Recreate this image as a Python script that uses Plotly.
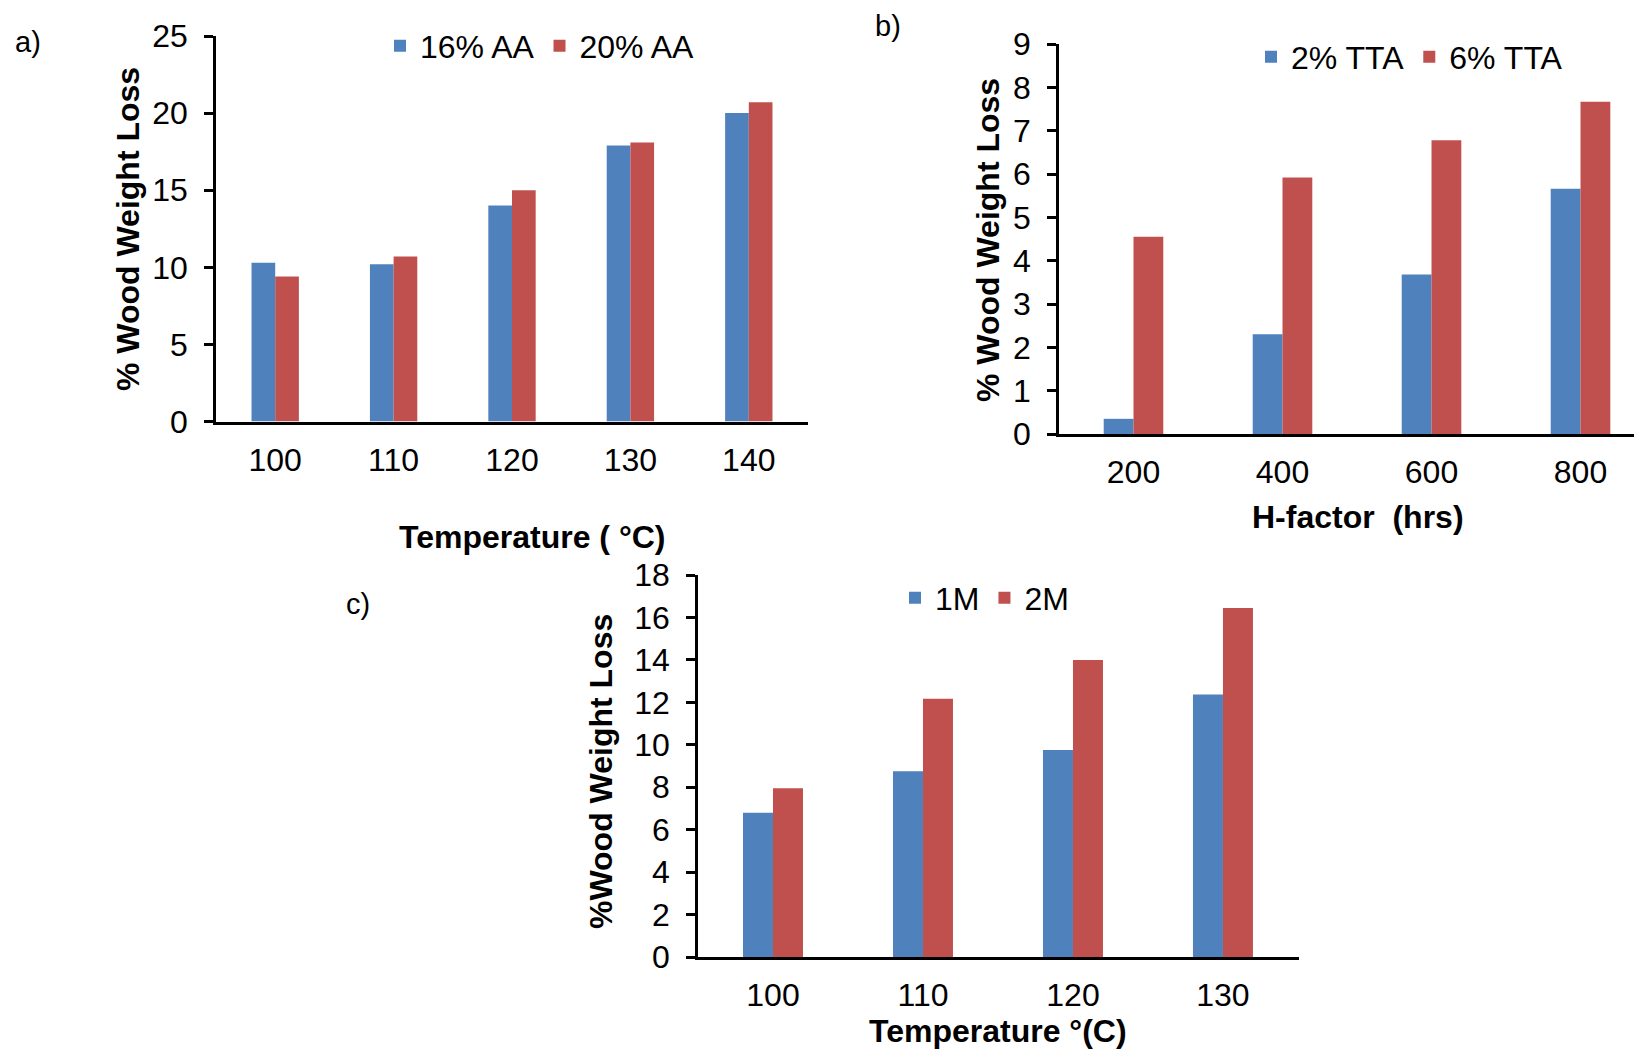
import plotly.graph_objects as go

# ---- data ----
a_categories = ["100", "110", "120", "130", "140"]
a_16aa = [10.3, 10.2, 14.0, 17.9, 20.0]
a_20aa = [9.4, 10.7, 15.0, 18.1, 20.7]

b_categories = ["200", "400", "600", "800"]
b_2tta = [0.35, 2.3, 3.68, 5.66]
b_6tta = [4.55, 5.92, 6.78, 7.67]

c_categories = ["100", "110", "120", "130"]
c_1m = [6.8, 8.75, 9.75, 12.37]
c_2m = [7.95, 12.17, 14.0, 16.45]

BLUE = "#4F81BD"
RED = "#C0504D"
FONT = "Arial, Liberation Sans, sans-serif"

# page body has an 8px margin; size the figure so the page fits the window
OX, OY = 8, 8
W, H = 1626, 1042

def px(x):
    return (x - OX) / W

def py(y):
    return 1 - (y - OY) / H

fig = go.Figure()

fig.add_trace(go.Bar(x=a_categories, y=a_16aa, name="16% AA", marker_color=BLUE,
                     xaxis="x", yaxis="y", legend="legend"))
fig.add_trace(go.Bar(x=a_categories, y=a_20aa, name="20% AA", marker_color=RED,
                     xaxis="x", yaxis="y", legend="legend"))
fig.add_trace(go.Bar(x=b_categories, y=b_2tta, name="2% TTA", marker_color=BLUE,
                     xaxis="x2", yaxis="y2", legend="legend2"))
fig.add_trace(go.Bar(x=b_categories, y=b_6tta, name="6% TTA", marker_color=RED,
                     xaxis="x2", yaxis="y2", legend="legend2"))
fig.add_trace(go.Bar(x=c_categories, y=c_1m, name="1M", marker_color=BLUE,
                     xaxis="x3", yaxis="y3", legend="legend3"))
fig.add_trace(go.Bar(x=c_categories, y=c_2m, name="2M", marker_color=RED,
                     xaxis="x3", yaxis="y3", legend="legend3"))
fig.update_traces(marker_line_width=0)

tickfont = dict(family=FONT, size=32, color="black")

def xax(domain, anchor, rng):
    return dict(domain=domain, anchor=anchor, type="category", range=rng,
                showline=True, linecolor="black", linewidth=3, ticks="",
                showgrid=False, zeroline=False, tickfont=tickfont,
                ticklabelstandoff=8, fixedrange=True, automargin=False)

def yax(domain, anchor, rng, dtick):
    return dict(domain=domain, anchor=anchor, range=rng, dtick=dtick,
                showline=True, linecolor="black", linewidth=2.5,
                ticks="outside", ticklen=9, tickwidth=2.5, tickcolor="black",
                showgrid=False, zeroline=False, tickfont=tickfont,
                ticklabelstandoff=10, fixedrange=True, automargin=False)

legfont = dict(family=FONT, size=32, color="black")

fig.update_layout(
    width=W, height=H,
    margin=dict(l=0, r=0, t=0, b=0, autoexpand=False),
    paper_bgcolor="white", plot_bgcolor="white",
    barmode="group", bargap=0.6, bargroupgap=0,
    xaxis=xax([px(216), px(808)], "y", [-0.5, 4.5]),
    yaxis=yax([py(421.5), py(36)], "x", [0, 25], 5),
    xaxis2=xax([px(1059), 1.0], "y2", [-0.5, 3.359]),
    yaxis2=yax([py(434), py(44)], "x2", [0, 9], 1),
    xaxis3=xax([px(698), px(1299)], "y3", [-0.5, 3.507]),
    yaxis3=yax([py(957), py(575)], "x3", [0, 18], 2),
    legend=dict(orientation="h", x=px(380), y=py(46), xanchor="left", yanchor="middle",
                font=legfont, bgcolor="rgba(0,0,0,0)", borderwidth=0),
    legend2=dict(orientation="h", x=px(1251), y=py(57), xanchor="left", yanchor="middle",
                 font=legfont, bgcolor="rgba(0,0,0,0)", borderwidth=0),
    legend3=dict(orientation="h", x=px(895), y=py(598), xanchor="left", yanchor="middle",
                 font=legfont, bgcolor="rgba(0,0,0,0)", borderwidth=0),
)

titlefont = dict(family=FONT, size=32, color="black")
anns = [
    # y-axis titles
    dict(text="<b>% Wood Weight Loss</b>", x=px(128), y=py(229), textangle=-90),
    dict(text="<b>% Wood Weight Loss</b>", x=px(988), y=py(240), textangle=-90),
    dict(text="<b>%Wood Weight Loss</b>", x=px(601), y=py(772), textangle=-90),
    # x-axis titles
    dict(text="<b>Temperature ( °C)</b>", x=px(532), y=py(537)),
    dict(text="<b>H-factor  (hrs)</b>", x=px(1358), y=py(517)),
    dict(text="<b>Temperature °(C)</b>", x=px(998), y=py(1031)),
]
for a in anns:
    fig.add_annotation(xref="paper", yref="paper", showarrow=False,
                       xanchor="center", yanchor="middle", font=titlefont, **a)

panel_font = dict(family=FONT, size=29, color="black")
for t, x, y in [("a)", 28, 42), ("b)", 888, 26), ("c)", 358, 604)]:
    fig.add_annotation(text=t, xref="paper", yref="paper", x=px(x), y=py(y),
                       showarrow=False, xanchor="center", yanchor="middle", font=panel_font)

fig.write_html("out.html")
